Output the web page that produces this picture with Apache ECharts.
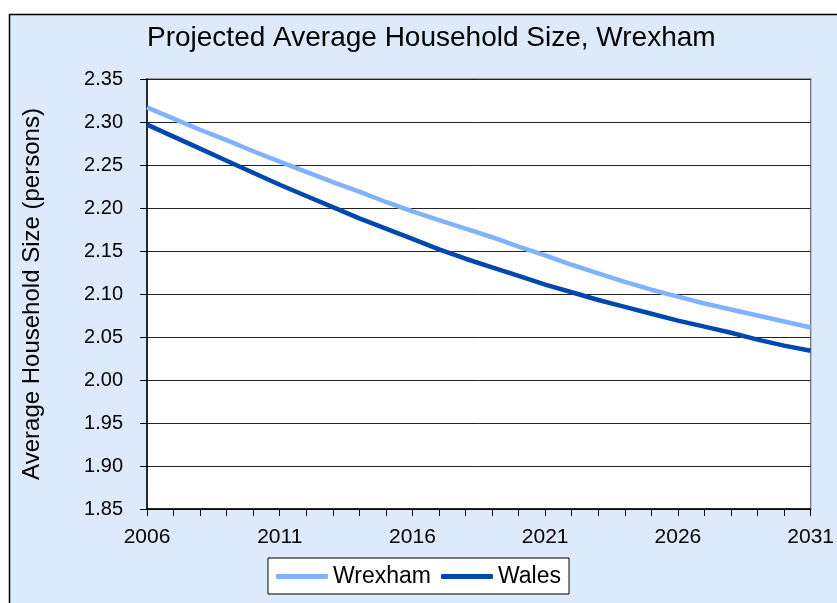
<!DOCTYPE html>
<html>
<head>
<meta charset="utf-8">
<title>Projected Average Household Size, Wrexham</title>
<script src="https://cdn.jsdelivr.net/npm/echarts@6/dist/echarts.min.js"></script>
<style>
  html, body { margin: 0; padding: 0; background: #fff; }
  #chart { width: 837px; height: 603px; }
</style>
</head>
<body>
<div id="chart"></div>
<script>
// years 2006..2031, one value per year
const years = ['2006', '2007', '2008', '2009', '2010', '2011', '2012', '2013', '2014', '2015',
  '2016', '2017', '2018', '2019', '2020', '2021', '2022', '2023', '2024', '2025',
  '2026', '2027', '2028', '2029', '2030', '2031']

const wrexham = [2.317, 2.304, 2.291, 2.279, 2.266, 2.254, 2.242, 2.230, 2.219, 2.207,
  2.196, 2.186, 2.176, 2.166, 2.155, 2.145, 2.134, 2.124, 2.114, 2.105,
  2.097, 2.089, 2.082, 2.075, 2.068, 2.061]

const wales = [2.297, 2.283, 2.269, 2.255, 2.241, 2.227, 2.214, 2.201, 2.188, 2.176,
  2.164, 2.152, 2.141, 2.131, 2.121, 2.111, 2.102, 2.093, 2.085, 2.077,
  2.069, 2.062, 2.055, 2.047, 2.040, 2.034]

const yMin = 1.85
const yMax = 2.35
const yStep = 0.05

const FONT = 'Liberation Sans, Arial, sans-serif'

const chart = echarts.init(document.getElementById('chart'), null, { renderer: 'canvas' })

const option = {
  animation: false,
  backgroundColor: 'transparent',
  graphic: [
    {
      type: 'rect',
      z: -10,
      silent: true,
      shape: { x: 9.5, y: 14.5, width: 900, height: 700 },
      style: { fill: '#DDEAFC', stroke: '#000', lineWidth: 1.5 }
    }
  ],
  title: {
    text: 'Projected Average Household Size, Wrexham',
    left: 142,
    top: 19,
    textStyle: { fontFamily: FONT, fontSize: 28, fontWeight: 'normal', color: '#000' }
  },
  grid: {
    left: 147,
    right: 16,
    top: 79,
    bottom: 94,
    show: true,
    backgroundColor: '#fff',
    borderColor: '#808080',
    borderWidth: 1.5
  },
  legend: {
    left: 'center',
    top: 558,
    padding: [7, 8, 6, 8],
    backgroundColor: '#fff',
    borderColor: '#000',
    borderWidth: 1,
    borderRadius: 0,
    itemGap: 10,
    itemWidth: 52,
    itemHeight: 5,
    icon: 'roundRect',
    textStyle: { fontFamily: FONT, fontSize: 23, color: '#000' },
    data: ['Wrexham', 'Wales']
  },
  xAxis: {
    type: 'category',
    data: years,
    boundaryGap: false,
    axisLine: { lineStyle: { color: '#000', width: 1.5 } },
    axisTick: { show: true, interval: 0, length: 7, lineStyle: { color: '#000' } },
    axisLabel: {
      interval: 4,
      margin: 18,
      fontFamily: FONT,
      fontSize: 21,
      color: '#000'
    },
    splitLine: { show: false }
  },
  yAxis: {
    type: 'value',
    min: yMin,
    max: yMax,
    interval: yStep,
    name: 'Average Household Size (persons)',
    nameLocation: 'middle',
    nameGap: 103,
    nameTextStyle: { fontFamily: FONT, fontSize: 24, color: '#000' },
    axisLine: { show: true, lineStyle: { color: '#000', width: 1.5 } },
    axisTick: { show: true, length: 7, lineStyle: { color: '#000' } },
    axisLabel: {
      margin: 24,
      fontFamily: FONT,
      fontSize: 20,
      color: '#000',
      formatter: (v) => v.toFixed(2)
    },
    splitLine: { show: true, lineStyle: { color: '#222', width: 1 } }
  },
  series: [
    {
      name: 'Wrexham',
      type: 'line',
      data: wrexham,
      smooth: false,
      showSymbol: false,
      symbol: 'none',
      lineStyle: { color: '#7FB2FF', width: 4.5, join: 'round' },
      itemStyle: { color: '#7FB2FF' }
    },
    {
      name: 'Wales',
      type: 'line',
      data: wales,
      smooth: false,
      showSymbol: false,
      symbol: 'none',
      lineStyle: { color: '#0047AE', width: 4.5, join: 'round' },
      itemStyle: { color: '#0047AE' }
    }
  ]
}

chart.setOption(option)
</script>
</body>
</html>
